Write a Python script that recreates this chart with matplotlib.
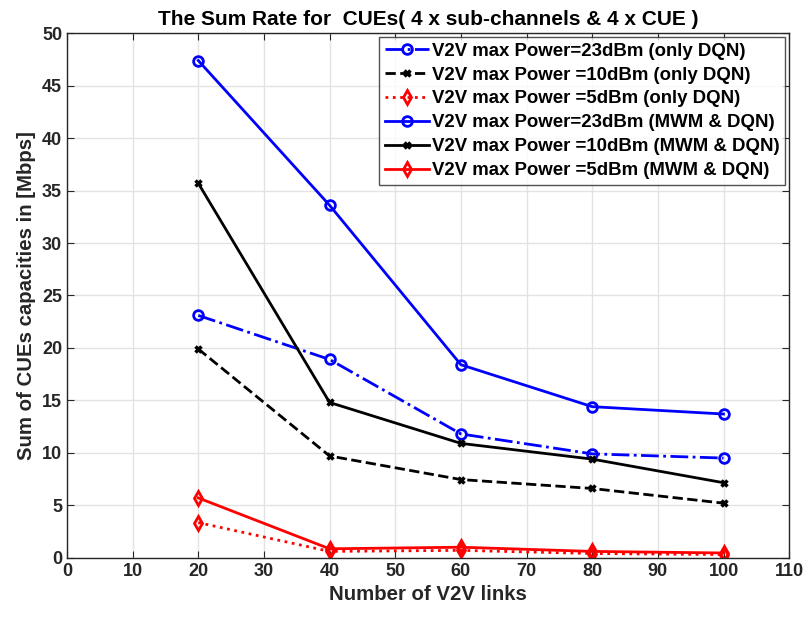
import numpy as np
import matplotlib.pyplot as plt

plt.rcParams['font.family'] = ['Liberation Sans', 'DejaVu Sans']
plt.rcParams['font.weight'] = 'bold'

links = [20, 40, 60, 80, 100]

# only DQN
p23_dqn = [23.1, 18.9, 11.8, 9.9, 9.5]
p10_dqn = [19.9, 9.7, 7.45, 6.6, 5.2]
p5_dqn = [3.35, 0.6, 0.7, 0.4, 0.3]

# MWM & DQN
p23_mwm = [47.4, 33.6, 18.4, 14.4, 13.7]
p10_mwm = [35.7, 14.8, 10.9, 9.4, 7.15]
p5_mwm = [5.7, 0.85, 1.0, 0.6, 0.45]

fig = plt.figure(figsize=(8.06, 6.17), dpi=100)
ax = fig.add_axes([0.0831, 0.0961, 0.896, 0.850])

ax.plot(links, p23_dqn, '-.', color='blue', lw=2, marker='o', ms=7, mfc='none', mew=2,
        label='V2V max Power=23dBm (only DQN)')
ax.plot(links, p10_dqn, '--', color='black', lw=2, marker='x', ms=4, mew=2.5,
        label='V2V max Power =10dBm (only DQN)')
ax.plot(links, p5_dqn, ':', color='red', lw=2, marker='d', ms=7, mfc='none', mew=2,
        label='V2V max Power =5dBm (only DQN)')
ax.plot(links, p23_mwm, '-', color='blue', lw=2, marker='o', ms=7, mfc='none', mew=2,
        label='V2V max Power=23dBm (MWM & DQN)')
ax.plot(links, p10_mwm, '-', color='black', lw=2, marker='x', ms=4, mew=2.5,
        label='V2V max Power =10dBm (MWM & DQN)')
ax.plot(links, p5_mwm, '-', color='red', lw=2, marker='d', ms=7, mfc='none', mew=2,
        label='V2V max Power =5dBm (MWM & DQN)')

ax.set_xlim(0, 110)
ax.set_ylim(0, 50)
ax.set_xticks(np.arange(0, 111, 10))
ax.set_yticks(np.arange(0, 51, 5))
ax.grid(True, color='#e3e3e3', lw=1)
ax.set_axisbelow(True)
ax.tick_params(direction='in', top=True, right=True, labelsize=13, colors='#262626', length=5)
for s in ax.spines.values():
    s.set_color('#262626')
    s.set_linewidth(1)

ax.set_xlabel('Number of V2V links', fontsize=14.7, fontweight='bold', color='#262626')
ax.set_ylabel('Sum of CUEs capacities in [Mbps]', fontsize=14.7, fontweight='bold', color='#262626')
ax.set_title('The Sum Rate for  CUEs( 4 x sub-channels & 4 x CUE )', fontsize=15, fontweight='bold', pad=6)

leg = ax.legend(loc='upper right', fontsize=13.4, frameon=True, fancybox=False, edgecolor='#262626',
                handlelength=2.4, handletextpad=0.15, borderpad=0.3, labelspacing=0.37,
                borderaxespad=0.2)
leg.get_frame().set_linewidth(1)

plt.savefig('out.png', dpi=100)
